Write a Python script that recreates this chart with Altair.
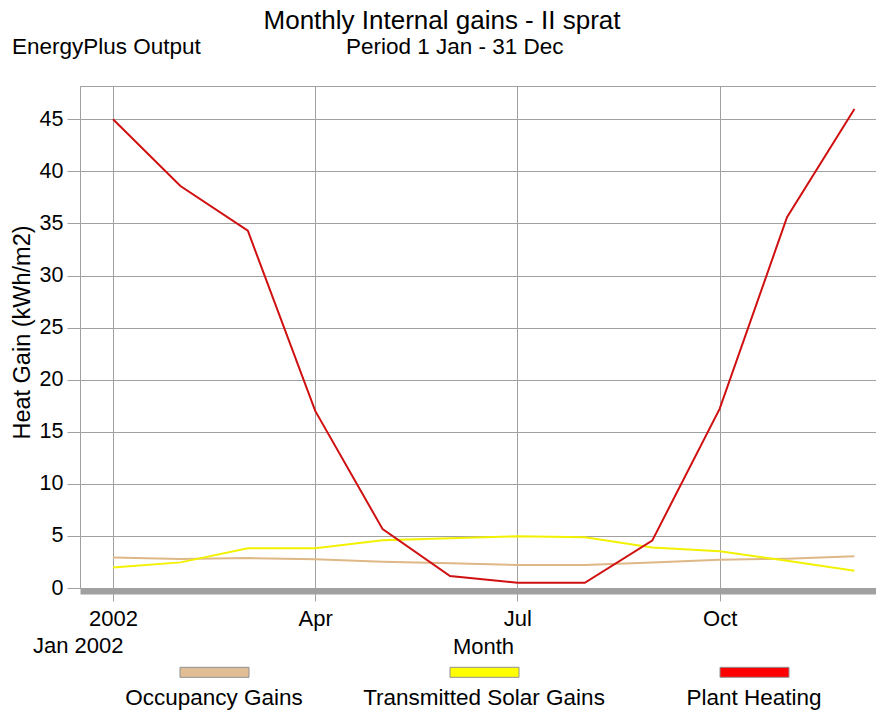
import altair as alt
import pandas as pd

months = ["Jan", "Feb", "Mar", "Apr", "May", "Jun", "Jul", "Aug", "Sep", "Oct", "Nov", "Dec"]
occupancy = [2.94, 2.79, 2.88, 2.75, 2.53, 2.37, 2.21, 2.21, 2.46, 2.72, 2.82, 3.04]
solar = [1.98, 2.46, 3.81, 3.81, 4.58, 4.77, 4.96, 4.87, 3.90, 3.52, 2.62, 1.66]
heating = [45.0, 38.6, 34.3, 17.0, 5.65, 1.15, 0.50, 0.50, 4.55, 17.2, 35.6, 46.0]

series_names = ["Occupancy Gains", "Transmitted Solar Gains", "Plant Heating"]
line_colors = ["#DEB887", "#F2F200", "#D01010"]
swatch_colors = ["#E2BE96", "#FFFF00", "#FF0000"]
tick_values = [0, 3, 6, 9]
tick_labels = ["2002", "Apr", "Jul", "Oct"]

rows = []
for name, vals in zip(series_names, [occupancy, solar, heating]):
    for i, v in enumerate(vals):
        rows.append({"idx": i, "month": months[i], "series": name, "value": v})
df = pd.DataFrame(rows)

FONT = "Liberation Sans"
label_expr = " : ".join(
    f"datum.value == {v} ? '{l}'" for v, l in zip(tick_values, tick_labels)
) + " : ''"

lines = alt.Chart(df).mark_line(strokeWidth=2).encode(
    x=alt.X("idx:Q",
            scale=alt.Scale(domain=[-0.49, 11.32], nice=False, zero=False),
            axis=alt.Axis(values=tick_values, labelExpr=label_expr, title="Month",
                          grid=True, gridColor="#a0a0a0", gridWidth=1,
                          domainColor="#a0a0a0", domainWidth=6, offset=3,
                          tickColor="#a0a0a0", tickSize=10, tickWidth=1,
                          labelFont=FONT, labelFontSize=22, labelColor="#000",
                          labelPadding=24, labelBaseline="alphabetic", labelFlush=False,
                          titleFont=FONT, titleFontSize=22, titleFontWeight="normal",
                          titleColor="#000", titleX=403, titleY=62,
                          titleBaseline="alphabetic", titleAlign="center")),
    y=alt.Y("value:Q",
            scale=alt.Scale(domain=[0, 48.2], nice=False),
            axis=alt.Axis(values=list(range(0, 50, 5)), title="Heat Gain (kWh/m2)",
                          grid=True, gridColor="#a0a0a0", gridWidth=1,
                          domainColor="#a0a0a0", domainWidth=1,
                          tickColor="#a0a0a0", tickSize=13, tickWidth=1,
                          labelFont=FONT, labelFontSize=21.5, labelColor="#000",
                          labelPadding=4,
                          titleFont=FONT, titleFontSize=23.5, titleFontWeight="normal",
                          titleColor="#000", titleX=-58, titleY=246,
                          titleAngle=270, titleAlign="center", titleBaseline="middle")),
    color=alt.Color("series:N", scale=alt.Scale(domain=series_names, range=line_colors),
                    legend=None),
    order=alt.Order("idx:Q"),
    detail="series:N",
)

one = pd.DataFrame({"a": [0]})


def text_layer(txt, x, y, size=22.5, align="left"):
    return alt.Chart(one).mark_text(text=txt, font=FONT, fontSize=size, align=align,
                                    baseline="alphabetic", color="#000").encode(
        x=alt.value(x), y=alt.value(y))


layers = [lines,
          text_layer("Monthly Internal gains - II sprat", 362, -57.5, size=26, align="center"),
          text_layer("EnergyPlus Output", -68, -31.7),
          text_layer("Period 1 Jan - 31 Dec", 266, -31.7),
          text_layer("Jan 2002", -47, 566.7, size=22)]

swatch_x = [100, 370, 640]
for name, col, sx in zip(series_names, swatch_colors, swatch_x):
    layers.append(alt.Chart(one).mark_rect(fill=col, stroke="#909090", strokeWidth=1).encode(
        x=alt.value(sx), x2=alt.value(sx + 69), y=alt.value(581.3), y2=alt.value(591.3)))
    layers.append(text_layer(name, sx + 34, 619, align="center"))

chart = alt.layer(*layers).properties(
    width=796, height=502,
    autosize=alt.AutoSizeParams(type="none"),
    padding={"left": 72, "top": 78, "right": 0, "bottom": 124},
    background="white",
).configure_view(stroke="#a0a0a0", strokeWidth=1)

chart.save("out.html", embed_options={"renderer": "svg", "actions": False})
